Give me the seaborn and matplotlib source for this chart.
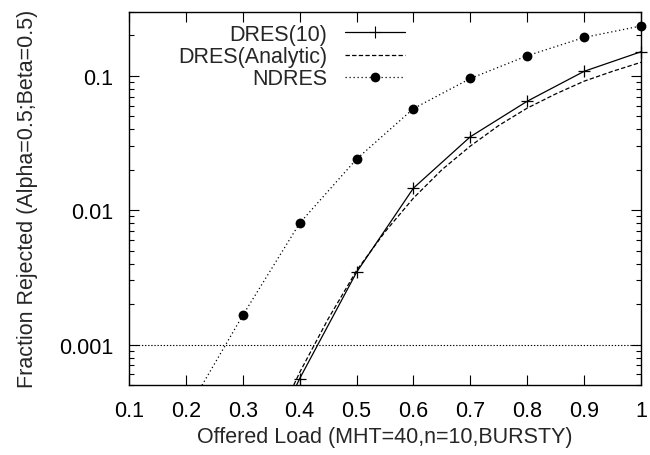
import matplotlib
matplotlib.use("Agg")
import matplotlib.pyplot as plt
import matplotlib.ticker as mticker
from matplotlib.lines import Line2D
import numpy as np
import pandas as pd
import seaborn as sns

# ---- data ----
load_dres10 = [0.3, 0.4, 0.5, 0.6, 0.7, 0.8, 0.9, 1.0]
dres10 = [0.00007, 0.000558, 0.00345, 0.0146, 0.0352, 0.0647, 0.108, 0.151]

load_analytic = [0.35, 0.4, 0.45, 0.5, 0.55, 0.6, 0.65, 0.7, 0.75, 0.8, 0.85, 0.9, 0.95, 1.0]
dres_analytic = [0.00022, 0.00062, 0.00155, 0.00355, 0.0069, 0.0123, 0.020, 0.030,
                 0.0427, 0.0575, 0.0733, 0.0912, 0.108, 0.126]

load_ndres = [0.2, 0.3, 0.4, 0.5, 0.6, 0.7, 0.8, 0.9, 1.0]
ndres = [0.00031, 0.00165, 0.0080, 0.024, 0.057, 0.0955, 0.141, 0.193, 0.235]

threshold = 0.001
labels = ["DRES(10)", "DRES(Analytic)", "NDRES"]
xticks = [0.1, 0.2, 0.3, 0.4, 0.5, 0.6, 0.7, 0.8, 0.9, 1.0]
xtick_labels = ["0.1", "0.2", "0.3", "0.4", "0.5", "0.6", "0.7", "0.8", "0.9", "1"]
yticks = [0.001, 0.01, 0.1]
ytick_labels = ["0.001", "0.01", "0.1"]
ylim = (0.0005, 0.3)

sns.set_style("ticks")
plt.rcParams["font.family"] = ["Liberation Sans", "DejaVu Sans"]
FS = 15.5

fig = plt.figure(figsize=(6.5, 4.56), dpi=100)
ax = fig.add_axes([129 / 650, 1 - 386 / 456, (641 - 129) / 650, (386 - 12.7) / 456])

df1 = pd.DataFrame({"x": load_dres10, "y": dres10})
df2 = pd.DataFrame({"x": load_analytic, "y": dres_analytic})
df3 = pd.DataFrame({"x": load_ndres, "y": ndres})

LW = 0.9
DOT = (1.0, 2.2)
DASH = (3.5, 1.8)

# lines (clipped to the axes)
sns.lineplot(data=df1, x="x", y="y", ax=ax, color="black", lw=LW)
sns.lineplot(data=df2, x="x", y="y", ax=ax, color="black", lw=LW)
sns.lineplot(data=df3, x="x", y="y", ax=ax, color="black", lw=LW)
lines = ax.get_lines()
lines[1].set_dashes(DASH)
lines[2].set_dashes(DOT)

# markers (not clipped, like gnuplot) for points inside the y range
m1 = df1[df1["y"] >= ylim[0]]
m3 = df3[df3["y"] >= ylim[0]]
sns.scatterplot(data=m1, x="x", y="y", ax=ax, marker="+", s=70, color="black",
                linewidth=0.9, clip_on=False, zorder=3)
sns.scatterplot(data=m3, x="x", y="y", ax=ax, marker="o", s=50, color="black",
                edgecolor="black", linewidth=0, clip_on=False, zorder=3)

hl = ax.axhline(threshold, color="black", lw=0.8)
hl.set_dashes((1.2, 1.6))

ax.set_yscale("log")
ax.set_xlim(0.1, 1.0)
ax.set_ylim(*ylim)
ax.set_xticks(xticks)
ax.set_xticklabels(xtick_labels)
ax.yaxis.set_major_locator(mticker.FixedLocator(yticks))
ax.set_yticklabels(ytick_labels)
ax.yaxis.set_minor_locator(mticker.LogLocator(base=10, subs=np.arange(2, 10)))
ax.yaxis.set_minor_formatter(mticker.NullFormatter())
ax.xaxis.set_minor_locator(mticker.NullLocator())

ax.tick_params(which="both", direction="in", top=True, right=True, width=0.8,
               labelsize=FS, colors="black")
ax.tick_params(axis="x", which="major", length=7, pad=10.5)
ax.tick_params(axis="y", which="major", length=7, pad=11.5)
ax.tick_params(which="minor", length=3.5)
for s in ax.spines.values():
    s.set_linewidth(1.0)
    s.set_color("black")
    s.set_visible(True)

ax.set_xlabel("Offered Load (MHT=40,n=10,BURSTY)", fontsize=FS, labelpad=4)
ax.set_ylabel("Fraction Rejected (Alpha=0.5;Beta=0.5)", fontsize=FS, labelpad=15)

h1 = Line2D([], [], color="black", lw=LW, marker="+", markersize=8, markeredgewidth=0.8)
h2 = Line2D([], [], color="black", lw=LW, dashes=DASH)
h3 = Line2D([], [], color="black", lw=LW, dashes=DOT, marker="o", markersize=7,
            markeredgewidth=0)
leg = ax.legend([h1, h2, h3], labels, loc="upper right",
                bbox_to_anchor=(405 / 650, 1 - 25 / 456),
                bbox_transform=fig.transFigure, frameon=False, markerfirst=False,
                fontsize=FS, handlelength=2.8, handletextpad=0.8, labelspacing=0.05,
                borderpad=0, borderaxespad=0, numpoints=1)

fig.savefig("out.png", dpi=100)
